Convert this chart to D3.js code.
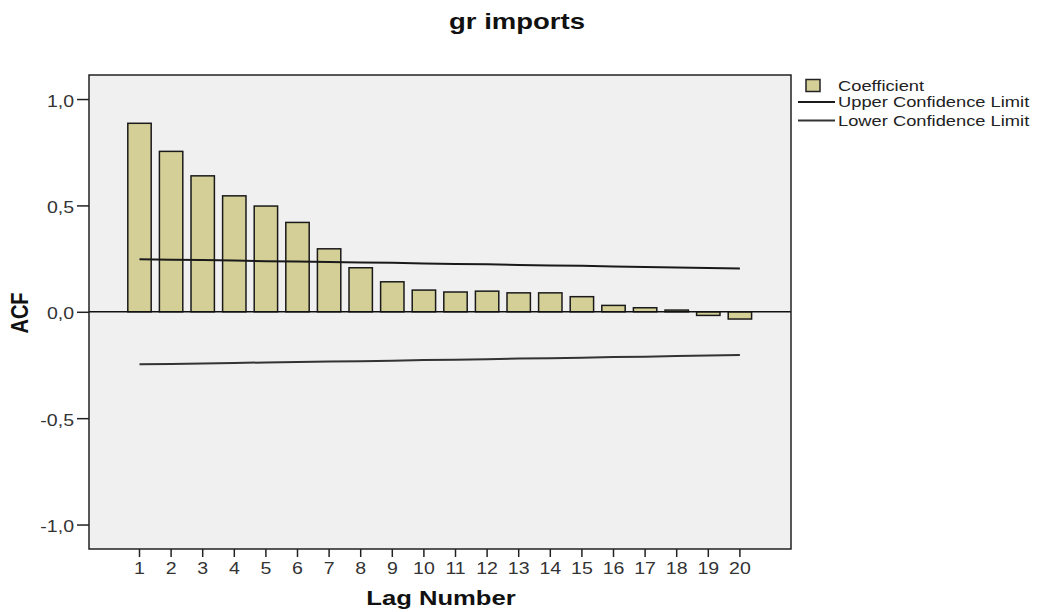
<!DOCTYPE html>
<html>
<head>
<meta charset="utf-8">
<script src="https://cdn.jsdelivr.net/npm/d3@7/dist/d3.min.js"></script>
<style>
html,body{margin:0;padding:0;background:#fff;}
svg{display:block;}
text{font-family:"Liberation Sans",Arial,sans-serif;}
</style>
</head>
<body>
<svg id="chart" width="1041" height="612"></svg>
<script>
// ---- data ----
const title = "gr imports";
const xLabel = "Lag Number";
const yLabel = "ACF";
const lags = [1,2,3,4,5,6,7,8,9,10,11,12,13,14,15,16,17,18,19,20];
const coefficient = [0.886,0.754,0.639,0.545,0.497,0.420,0.296,0.207,0.141,0.102,
                     0.093,0.097,0.089,0.089,0.071,0.030,0.019,0.008,-0.017,-0.034];
const upperLimit = [0.247,0.245,0.243,0.241,0.238,0.236,0.234,0.232,0.230,0.227,
                    0.225,0.223,0.220,0.218,0.216,0.213,0.211,0.208,0.206,0.203];
const lowerLimit = [-0.247,-0.245,-0.243,-0.241,-0.238,-0.236,-0.234,-0.232,-0.230,-0.227,
                    -0.225,-0.223,-0.220,-0.218,-0.216,-0.213,-0.211,-0.208,-0.206,-0.203];
const yTicks = [-1.0,-0.5,0.0,0.5,1.0];
const legendLabels = ["Coefficient","Upper Confidence Limit","Lower Confidence Limit"];

// ---- layout ----
const svg = d3.select("#chart");
const plot = {left:89, right:791, top:75, bottom:549};
const STRETCH = 1.22;
const fmt = v => d3.format(".1f")(v).replace(".", ",").replace("−","-");

const x = d3.scaleBand().domain(lags).range([123.7, 755.7]).paddingInner(0.26).paddingOuter(0.13);
const y = d3.scaleLinear().domain([-1.115, 1.113]).range([plot.bottom, plot.top]);
const xc = d => x(d) + x.bandwidth()/2;

function stretch(sel, f){
  sel.each(function(){
    const w = this.getComputedTextLength();
    this.setAttribute("textLength", (w*f).toFixed(2));
    this.setAttribute("lengthAdjust", "spacingAndGlyphs");
  });
}

// plot background
svg.append("rect").attr("x",plot.left).attr("y",plot.top)
  .attr("width",plot.right-plot.left).attr("height",plot.bottom-plot.top)
  .attr("fill","#f0f0f0");

// bars
svg.append("g").selectAll("rect").data(lags).join("rect")
  .attr("x", d => x(d))
  .attr("width", x.bandwidth())
  .attr("y", (d,i) => y(Math.max(0, coefficient[i])))
  .attr("height", (d,i) => Math.abs(y(coefficient[i]) - y(0)))
  .attr("fill","#d3cf96")
  .attr("stroke","#1a1a1a")
  .attr("stroke-width",1.5);

// zero line
svg.append("line").attr("x1",plot.left).attr("x2",plot.right)
  .attr("y1",y(0)).attr("y2",y(0)).attr("stroke","#111").attr("stroke-width",1.5);

// confidence limits
const line = d3.line().x((d,i)=>xc(lags[i])).y(d=>y(d));
svg.append("path").datum(upperLimit).attr("d",line).attr("fill","none")
  .attr("stroke","#1a1a1a").attr("stroke-width",2);
svg.append("path").datum(lowerLimit).attr("d",line).attr("fill","none")
  .attr("stroke","#333").attr("stroke-width",2);

// frame
svg.append("rect").attr("x",plot.left).attr("y",plot.top)
  .attr("width",plot.right-plot.left).attr("height",plot.bottom-plot.top)
  .attr("fill","none").attr("stroke","#222").attr("stroke-width",1.5);

// y axis
const yAxis = svg.append("g").attr("transform",`translate(${plot.left},0)`)
  .call(d3.axisLeft(y).tickValues(yTicks).tickSize(12).tickPadding(3).tickFormat(fmt));
yAxis.select(".domain").remove();
yAxis.selectAll(".tick line").attr("stroke","#222").attr("stroke-width",1.5);
yAxis.selectAll(".tick text").attr("font-size",16).attr("fill","#333")
  .attr("font-family","Liberation Sans, Arial, sans-serif").attr("dy","0.45em");
stretch(yAxis.selectAll(".tick text"), STRETCH);

// x axis
const xAxis = svg.append("g").attr("transform",`translate(0,${plot.bottom})`)
  .call(d3.axisBottom(x).tickSize(8).tickPadding(6));
xAxis.select(".domain").remove();
xAxis.selectAll(".tick line").attr("stroke","#222").attr("stroke-width",1.5);
xAxis.selectAll(".tick text").attr("font-size",16).attr("fill","#333")
  .attr("font-family","Liberation Sans, Arial, sans-serif");
stretch(xAxis.selectAll(".tick text"), STRETCH);

// title
const t = svg.append("text").attr("x",517).attr("y",29).attr("text-anchor","middle")
  .attr("font-size",22).attr("font-weight","bold").attr("fill","#111").text(title);
stretch(t, 1.25);

// x label
const xl = svg.append("text").attr("x",441).attr("y",605).attr("text-anchor","middle")
  .attr("font-size",21).attr("font-weight","bold").attr("fill","#111").text(xLabel);
stretch(xl, STRETCH);

// y label
svg.append("text")
  .attr("transform",`translate(28,313) scale(${STRETCH},1) rotate(-90)`)
  .attr("text-anchor","middle").attr("font-size",20).attr("font-weight","bold")
  .attr("fill","#111").text(yLabel);

// legend
const lg = svg.append("g");
lg.append("rect").attr("x",806).attr("y",79.5).attr("width",14).attr("height",12)
  .attr("fill","#d3cf96").attr("stroke","#222").attr("stroke-width",1.5);
lg.append("line").attr("x1",798).attr("x2",835).attr("y1",102).attr("y2",102)
  .attr("stroke","#1a1a1a").attr("stroke-width",2);
lg.append("line").attr("x1",798).attr("x2",835).attr("y1",120.5).attr("y2",120.5)
  .attr("stroke","#333").attr("stroke-width",2);
const ly = [90.5, 107, 125.5];
const lt = lg.selectAll("text.leg").data(legendLabels).join("text").attr("class","leg")
  .attr("x",838).attr("y",(d,i)=>ly[i]).attr("font-size",15).attr("fill","#222").text(d=>d);
stretch(lt, STRETCH);
</script>
</body>
</html>
